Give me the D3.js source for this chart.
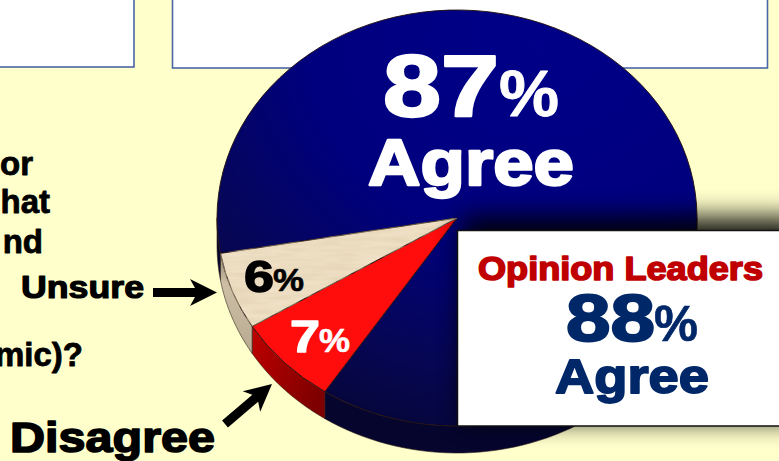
<!DOCTYPE html>
<html><head><meta charset="utf-8">
<script src="https://cdn.jsdelivr.net/npm/d3@7"></script>
<style>html,body{margin:0;padding:0;background:#ffffcc;overflow:hidden}svg{display:block}
text{font-family:"Liberation Sans",Arial,sans-serif;font-weight:700;paint-order:stroke;stroke-linejoin:round}</style>
</head><body><svg id="c" width="779" height="461"></svg>
<script>
const categories = ["Agree","Disagree","Unsure"];
const values = [87,7,6];
const leaderValue = 88;
const topColors = ["url(#blueTop)","#ff0c0c","#efe0c6"];
const wallColors = ["#05052e","url(#redWall)","url(#tanWall)"];
const questionFragments = ["or","hat","nd","mic)?"];

const W=779,H=461,cx=457,cy=218,rx=240,ry=208,depth=27;
const svg=d3.select("#c");
const defs=svg.append("defs");
function grad(id,stops,a){const g=defs.append("linearGradient").attr("id",id).attr("x1",a[0]).attr("y1",a[1]).attr("x2",a[2]).attr("y2",a[3]);
 stops.forEach(s=>g.append("stop").attr("offset",s[0]).attr("stop-color",s[1]));}
grad("redWall",[[0,"#c00000"],[1,"#7e0000"]],[0,0,1,0.6]);
grad("tanWall",[[0,"#8f866f"],[.3,"#cdbfa5"],[1,"#b8aa90"]],[0,0,0,1]);
const rg=defs.append("radialGradient").attr("id","blueTop").attr("gradientUnits","userSpaceOnUse")
 .attr("cx",80).attr("cy",-200).attr("r",460);
[[0,"#000088"],[.5,"#00007e"],[.8,"#060658"],[1,"#06063c"]].forEach(s=>rg.append("stop").attr("offset",s[0]).attr("stop-color",s[1]));
defs.append("filter").attr("id","blur").attr("x","-20%").attr("y","-30%").attr("width","140%").attr("height","160%")
 .append("feGaussianBlur").attr("stdDeviation",13);
const tx=defs.append("filter").attr("id","grain").attr("x",0).attr("y",0).attr("width","100%").attr("height","100%");
tx.append("feTurbulence").attr("type","fractalNoise").attr("baseFrequency","0.03 0.18").attr("numOctaves",2).attr("seed",4).attr("result","n");
tx.append("feColorMatrix").attr("in","n").attr("type","matrix").attr("values","0 0 0 0 0.72  0 0 0 0 0.6  0 0 0 0 0.38  0.9 0 0 0 -0.25").attr("result","t");
tx.append("feComposite").attr("in","t").attr("in2","SourceGraphic").attr("operator","in").attr("result","c");
tx.append("feMerge").selectAll("feMergeNode").data(["SourceGraphic","c"]).join("feMergeNode").attr("in",d=>d);

svg.append("rect").attr("width",W).attr("height",H).attr("fill","#ffffcc");
// top boxes
svg.append("rect").attr("x",-10).attr("y",-10).attr("width",144).attr("height",77).attr("fill","#fff").attr("stroke","#4a66a8").attr("stroke-width",1.6);
svg.append("rect").attr("x",172.5).attr("y",-10).attr("width",595).attr("height",78).attr("fill","#fff").attr("stroke","#4a66a8").attr("stroke-width",1.6);

// pie
const start=260.2*Math.PI/180;
const pie=d3.pie().sort(null).startAngle(start).endAngle(start+2*Math.PI);
const arcs=pie(values);
const rScale=d3.scaleLinear().domain([0,1]).range([0,rx]);
const arc=d3.arc().innerRadius(0).outerRadius(rScale(1));
const pt=(a,dy)=>[cx+rx*Math.sin(a),cy-ry*Math.cos(a)+dy];
const line=d3.line();
function wall(d){
  const spans=[];
  for(const k of [0,1]){
    const a0=Math.max(d.startAngle,Math.PI/2+k*2*Math.PI), a1=Math.min(d.endAngle,1.5*Math.PI+k*2*Math.PI);
    if(a1>a0) spans.push([a0,a1]);
  }
  return spans.map(([a0,a1])=>{
    const t=d3.range(0,1.0001,1/60).map(u=>a0+(a1-a0)*u);
    return line(t.map(a=>pt(a,0)).concat(t.slice().reverse().map(a=>pt(a,depth))))+"Z";
  }).join("");
}
svg.append("g").selectAll("path").data(arcs).join("path").attr("d",wall)
  .attr("fill",(d,i)=>wallColors[i]).attr("stroke","#2a1a1a").attr("stroke-width",.6);
const topG=svg.append("g").attr("transform",`translate(${cx},${cy}) scale(1,${ry/rx})`);
topG.selectAll("path").data(arcs).join("path").attr("d",arc)
  .attr("fill",(d,i)=>topColors[i]).attr("stroke","#231010").attr("stroke-width",1)
  .attr("filter",(d,i)=>i===2?"url(#grain)":null);

// shadow of call-out
svg.append("rect").attr("x",462).attr("y",217).attr("width",340).attr("height",204).attr("fill","#000").attr("opacity",.92).attr("filter","url(#blur)");
// call-out
svg.append("rect").attr("x",457.5).attr("y",230.5).attr("width",330).attr("height",195.5).attr("fill","#fff").attr("stroke","#111").attr("stroke-width",1.5);

function txt(x,y,s,size,fill,sw,len,anchor){
  const t=svg.append("text").attr("x",x).attr("y",y).attr("font-size",size).attr("fill",fill).attr("stroke",fill).attr("stroke-width",sw)
   .attr("text-anchor",anchor||"start").text(s);
  if(len) t.attr("textLength",len).attr("lengthAdjust","spacingAndGlyphs");
}
// percentage figures: digits and smaller % sign
txt(383,116,values[0],88,"#fff",2.4,116);
txt(499,116,"%",65,"#fff",.8,60);
txt(244,292,values[2],45,"#000",1.4,30);
txt(273,291,"%",32,"#000",.6,31);
txt(290,352,values[1],45,"#fff",1.4,30);
txt(319,352,"%",33,"#fff",.6,31);
txt(566,341,leaderValue,66,"#002868",2,89);
txt(654,341,"%",50,"#002868",.6,44);

txt(368,185,categories[0],64,"#fff",2.4,206);
txt(555,393,categories[0],49,"#002868",1.8,154);
txt(478,280,"Opinion Leaders",33,"#c00000",1.6,285);
txt(21,298,categories[2],32,"#000",1.2,123);
txt(10,452,categories[1],43,"#000",1.6,205);
const qY=[175,213,252.5,366], qX=[33,50,43,83];
questionFragments.forEach((s,i)=>txt(qX[i],qY[i],s,33,"#000",.8,null,"end"));

// arrows
function arrow(x0,y0,x1,y1){
  const L=Math.hypot(x1-x0,y1-y0), hl=27, hw=13.5, sw=4.5, back=20;
  const a=Math.atan2(y1-y0,x1-x0)*180/Math.PI;
  const p=[[0,-sw],[L-back-2,-sw],[L-hl,-hw],[L,0],[L-hl,hw],[L-back-2,sw],[0,sw]];
  svg.append("path").attr("d",d3.line()(p)+"Z").attr("transform",`translate(${x0},${y0}) rotate(${a})`).attr("fill","#000");
}
arrow(153,292.5,217,292.5);
arrow(225,424,272,384);
</script></body></html>
